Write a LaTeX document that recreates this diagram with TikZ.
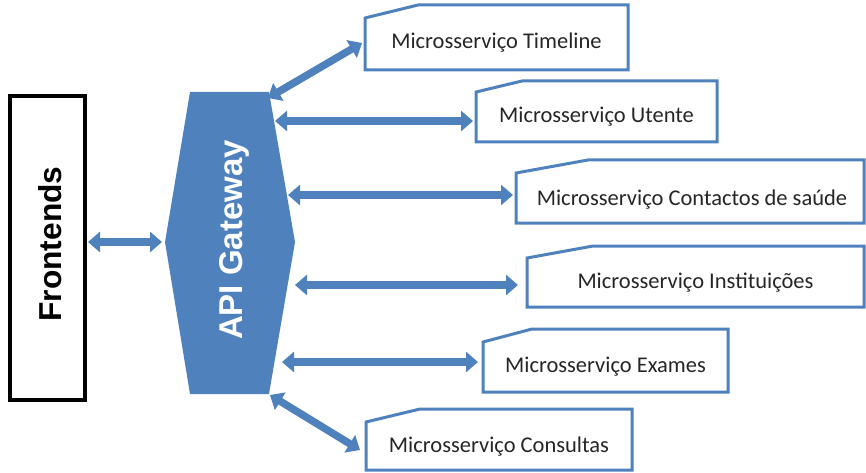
\documentclass[tikz,border=0pt]{standalone}
\usepackage{fontspec}
\setmainfont{Carlito}
\newfontfamily\headfont{Liberation Sans}
\usetikzlibrary{arrows.meta,calc}
\definecolor{office}{HTML}{4F81BD}

\begin{document}
\begin{tikzpicture}[x=1pt,y=-1pt,
  dbl/.style={draw=office, line width=7.5pt,
    {Triangle[width=20pt,length=12pt]}-{Triangle[width=20pt,length=12pt]}},
  svc/.style={inner sep=0pt, outer sep=0pt},
  svcline/.style={draw=office, line width=3pt, line join=miter},
  svctext/.style={anchor=base, inner sep=0pt, font=\fontsize{22.5}{27}\selectfont, text=black!85},
  bigtext/.style={rotate=90, inner sep=0pt}]

\useasboundingbox (0,0) rectangle (866,473);

% Frontends block
\node[draw=black, line width=3.5pt, minimum width=75pt, minimum height=304pt,
      inner sep=0pt, outer sep=0pt] (fe) at (47.5,248) {};
\node[bigtext, font=\headfont\fontsize{31.7}{38}\selectfont\bfseries] (fet) at (50,244) {Frontends};

% API gateway hexagon
\fill[office] (190,92) -- (269,92) -- (295,242) -- (269,394) -- (190,394) -- (165,242) -- cycle;
\coordinate (gwl) at (165,242);
\node[bigtext, text=white, font=\headfont\fontsize{33}{40}\selectfont\bfseries] (gwt) at (234,240) {API Gateway};

% connector ends on the gateway side
\coordinate (g1) at (268,98);
\coordinate (g2) at (275,121);
\coordinate (g3) at (288,195);
\coordinate (g4) at (295,285);
\coordinate (g5) at (282,362);
\coordinate (g6) at (270,395);

% microservice boxes
\node[svc, minimum width=263pt, minimum height=65pt] (tl) at (496.5,37.5) {};
\node[svc, minimum width=241pt, minimum height=61pt] (ut) at (596.5,111.5) {};
\node[svc, minimum width=348pt, minimum height=63pt] (ct) at (690,191.5) {};
\node[svc, minimum width=337pt, minimum height=61pt] (it) at (695.5,276.5) {};
\node[svc, minimum width=245pt, minimum height=63pt] (ex) at (605.5,360.5) {};
\node[svc, minimum width=266pt, minimum height=61pt] (co) at (499,439.5) {};

\foreach \n/\sx/\sy in {tl/53/13, ut/46/11, ct/72/13, it/66/12, ex/49/13, co/54/13}
  \draw[svcline] ([yshift=-\sy pt]\n.north west) -- ([xshift=\sx pt]\n.north west)
    -- (\n.north east) -- (\n.south east) -- (\n.south west) -- cycle;

\node[svctext] (tlt) at ([yshift=-11pt]tl.center) {Microsserviço Timeline};
\node[svctext] (utt) at ([yshift=-11.5pt]ut.center) {Microsserviço Utente};
\node[svctext] (ctt) at ([xshift=2pt,yshift=-13.5pt]ct.center) {Microsserviço Contactos de saúde};
\node[svctext] (itt) at ([yshift=-11.5pt]it.center) {Microsserviço Instituições};
\node[svctext] (ext) at ([yshift=-11.5pt]ex.center) {Microsserviço Exames};
\node[svctext] (cot) at ([yshift=-12.5pt]co.center) {Microsserviço Consultas};

% connectors
\draw[dbl] ([xshift=3pt]fe.east |- gwl) -- ([xshift=-3pt]gwl);
\draw[dbl] (g1) -- ([shift={(-3,5.5)}]tl.west);
\draw[dbl] (g2) -- ([xshift=-3pt]ut.west |- g2);
\draw[dbl] (g3) -- ([xshift=-3pt]ct.west |- g3);
\draw[dbl] (g4) -- ([xshift=-9pt]it.west |- g4);
\draw[dbl] (g5) -- ([xshift=-5pt]ex.west |- g5);
\draw[dbl] (g6) -- ([shift={(-6,10.5)}]co.west);
\end{tikzpicture}
\end{document}
